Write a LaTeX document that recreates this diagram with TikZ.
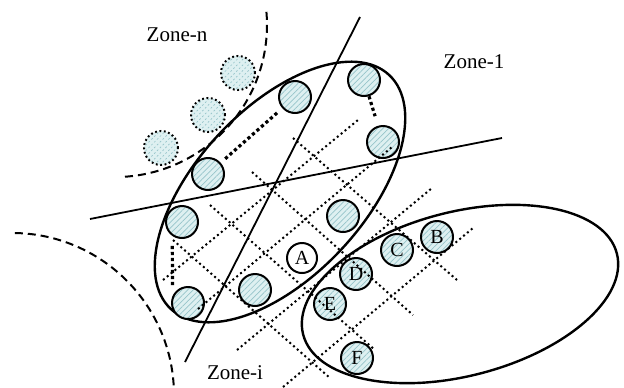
\documentclass[tikz,border=0pt]{standalone}
\usepackage{fontspec}
\setmainfont{Liberation Serif}
\usetikzlibrary{patterns.meta}
\definecolor{paleteal}{RGB}{222,240,241}
\definecolor{hatchteal}{RGB}{150,196,202}
\tikzset{
  ball/.style={circle,draw=black,line width=1pt,minimum size=16pt,inner sep=0pt,font=\fontsize{10}{12}\selectfont,preaction={fill=paleteal},pattern={Lines[angle=45,distance=2pt,line width=0.35pt]},pattern color=hatchteal},
  ghost/.style={ball,minimum size=17pt,dash pattern=on 0.9pt off 1.3pt},
  probe/.style={circle,draw=black,line width=1pt,fill=white,minimum size=15pt,inner sep=0pt,font=\fontsize{10}{12}\selectfont},
  zone/.style={draw=black,line width=1.2pt},
  cut/.style={draw=black,line width=0.9pt},
  rim/.style={draw=black,line width=1pt,dash pattern=on 4pt off 2.5pt},
  lattice/.style={draw=black,line width=1pt,dash pattern=on 1pt off 1.5pt},
  link/.style={draw=black,line width=1.6pt,dash pattern=on 1.6pt off 1.4pt},
  label/.style={font=\fontsize{10.5}{12}\selectfont}
}
\begin{document}
\begin{tikzpicture}[x=0.5pt,y=0.5pt]
\useasboundingbox (0,0) rectangle (624,387);
% zone borders
\draw[rim] (266.4,375.2) arc[start angle=5,end angle=-87,radius=76pt];
\draw[rim] (14.8,154) arc[start angle=89,end angle=2,radius=81pt];
\node[label] (zn) at (177,352) {Zone-n};
\node[label] (z1) at (474,325) {Zone-1};
\node[label] (zi) at (235,14) {Zone-i};
% cluster ellipses and cutting lines
\draw[zone,rotate around={47:(280,195)}] (280,195) ellipse[x radius=80pt,y radius=42pt];
\draw[zone,rotate around={14.5:(460,93)}] (460,93) ellipse[x radius=81pt,y radius=41pt];
\draw[cut] (360,370)--(185,25);
\draw[cut] (90,168)--(502,249);
% members
\node[ball] (c1) at (295,290) {};
\node[ball] (c2) at (364,307) {};
\node[ball] (c3) at (383,245) {};
\node[ball] (c4) at (208,213) {};
\node[ball] (c5) at (182,165) {};
\node[ball] (c6) at (188,84) {};
\node[ball] (c7) at (255,97) {};
\node[ball] (c8) at (343,171) {};
\node[probe] (a) at (302,129) {A};
\node[ghost] (g1) at (238,314) {};
\node[ghost] (g2) at (208,272) {};
\node[ghost] (g3) at (161,239) {};
\node[ball] (b) at (437,150) {B};
\node[ball] (c) at (397,137) {C};
\node[ball] (d) at (356,113) {D};
\node[ball] (e) at (330,83) {E};
\node[ball] (f) at (357,29) {F};
% links
\draw[link,shorten <=3pt,shorten >=3pt] (c4)--(c1);
\draw[link,shorten >=5pt] (c2)--(c3);
\draw[link,shorten <=5pt,shorten >=4pt] (c5.-125)--(c6.155);
% grid
\draw[lattice] (163,107)--(358,267);\draw[lattice] (198,78)--(392,240);
\draw[lattice] (237,37)--(432,199);\draw[lattice] (283,0)--(473,159);
\draw[lattice] (293,249)--(457,107);\draw[lattice] (252,215)--(413,72);
\draw[lattice] (210,182)--(375,37);\draw[lattice] (173,147)--(330,9);
\end{tikzpicture}
\end{document}
